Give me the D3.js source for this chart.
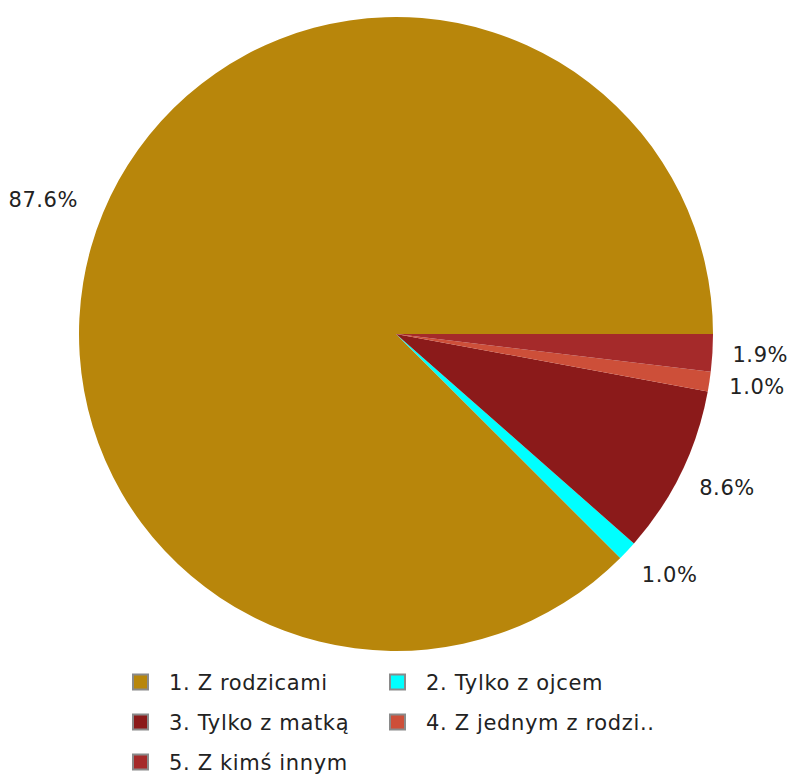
<!DOCTYPE html>
<html><head><meta charset="utf-8">
<script src="https://cdn.jsdelivr.net/npm/d3@7"></script>
<style>body{margin:0;background:#fff}svg{display:block}</style>
</head><body>
<script>
const categories = ["1. Z rodzicami","2. Tylko z ojcem","3. Tylko z matką","4. Z jednym z rodzi..","5. Z kimś innym"];
const values = [87.6, 1.0, 8.6, 1.0, 1.9];
const colors = ["#B8860B","#00FFFF","#8B1A1A","#CD4F39","#A52A2A"];

const W = 788, H = 776, cx = 396, cy = 334, R = 317;
const svg = d3.select("body").append("svg").attr("width", W).attr("height", H);
const g = svg.append("g").attr("transform", `translate(${cx},${cy})`);

// start at 3 o'clock, going counterclockwise
const pie = d3.pie().sort(null).value(d => d)
  .startAngle(Math.PI/2).endAngle(Math.PI/2 - 2*Math.PI);
const arcs = pie(values);
const arc = d3.arc().innerRadius(0).outerRadius(R);
g.selectAll("path.slice").data(arcs).join("path")
  .attr("d", arc).attr("fill", (d,i) => colors[i]);

const LRy = 352;
g.selectAll("text.lbl").data(arcs).join("text")
  .attr("class","lbl")
  .each(function(d){
    const a = (d.startAngle + d.endAngle)/2;
    const right = Math.sin(a) >= 0;
    const x = Math.sin(a)*(right ? 337 : 344), y = -Math.cos(a)*LRy;
    d3.select(this).attr("x", x).attr("y", y + 7.5)
      .attr("text-anchor", right ? "start" : "end");
  })
  .attr("font-family","DejaVu Sans").attr("font-size",21).attr("letter-spacing",0.6).attr("fill","#222")
  .text(d => d.data.toFixed(1) + "%");

const legend = svg.append("g");
categories.forEach((c,i) => {
  const col = i % 2, row = Math.floor(i/2);
  const x = 132 + col*257, y = 682 + row*40;
  legend.append("rect").attr("x", x+1).attr("y", y-7.5).attr("width",15).attr("height",15)
    .attr("fill", colors[i]).attr("stroke","#8a8a8a").attr("stroke-width",2);
  legend.append("text").attr("x", x+37).attr("y", y+7.5)
    .attr("font-family","DejaVu Sans").attr("font-size",21).attr("letter-spacing",0.65).attr("fill","#222")
    .text(c);
});
</script>
</body></html>
